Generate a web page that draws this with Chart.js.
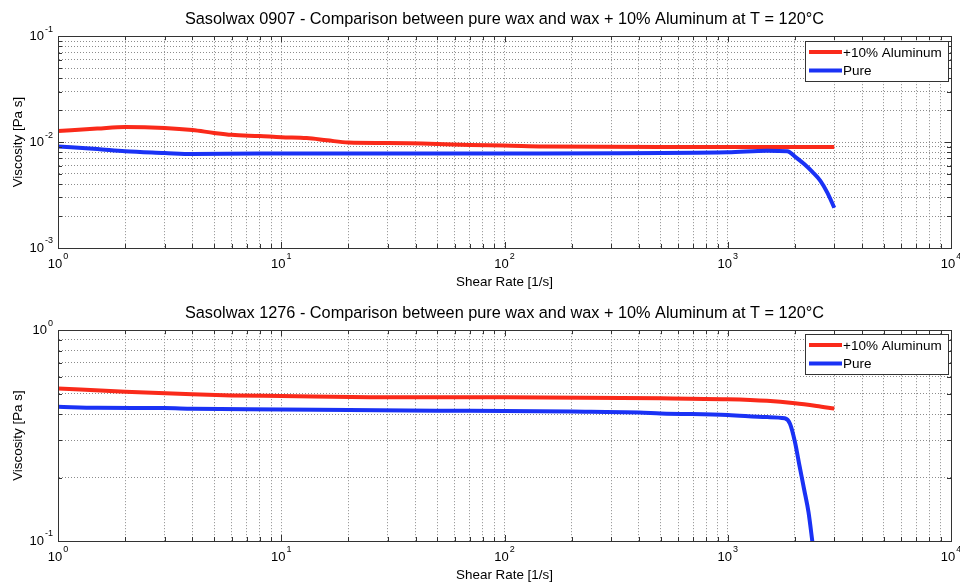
<!DOCTYPE html>
<html>
<head>
<meta charset="utf-8">
<title>Sasolwax viscosity comparison</title>
<script src="https://cdn.jsdelivr.net/npm/chart.js@4/dist/chart.umd.min.js"></script>
<style>
  body { margin: 0; background: #fff; }
  .plot { width: 960px; height: 293px; }
</style>
</head>
<body>
<div class="plot"><canvas id="chart-0907" width="960" height="293"></canvas></div>
<div class="plot"><canvas id="chart-1276" width="960" height="293"></canvas></div>
<script>
// decades shown on the axes (labels are 10^n)
const xDecades = [0, 1, 2, 3, 4];
const yDecades0907 = [-3, -2, -1];
const yDecades1276 = [-1, 0];

// Sasolwax 0907
const shear0907Alu = [1, 1.5, 2, 3, 4, 5, 6, 8, 10, 13, 16, 20, 30, 50, 70, 100, 150, 500, 1000, 3000];
const visc0907Alu = [0.0127, 0.0134, 0.0139, 0.0136, 0.0130, 0.0122, 0.0117, 0.0114, 0.0111, 0.0109, 0.0104, 0.0099, 0.0098, 0.0096, 0.0094, 0.0093, 0.0091, 0.0090, 0.0090, 0.0090];
const shear0907Pure = [1, 1.5, 2, 3, 4, 8, 100, 1000, 1500, 1850, 2000, 2200, 2400, 2600, 2800, 3000];
const visc0907Pure = [0.0091, 0.0086, 0.0082, 0.0079, 0.0077, 0.0078, 0.0078, 0.0080, 0.0083, 0.0082, 0.0073, 0.0062, 0.0052, 0.0043, 0.0033, 0.0024];

// Sasolwax 1276
const shear1276Alu = [1, 2, 4, 6, 10, 25, 100, 500, 1000, 1500, 2000, 2500, 3000];
const visc1276Alu = [0.529, 0.510, 0.496, 0.490, 0.487, 0.481, 0.480, 0.475, 0.470, 0.462, 0.450, 0.437, 0.425];
const shear1276Pure = [1, 1.5, 3, 4, 10, 20, 50, 100, 200, 400, 500, 1000, 1500, 1800, 1900, 2000, 2100, 2200, 2300, 2400];
const visc1276Pure = [0.433, 0.428, 0.427, 0.424, 0.421, 0.418, 0.415, 0.414, 0.411, 0.407, 0.403, 0.396, 0.387, 0.382, 0.360, 0.295, 0.225, 0.175, 0.137, 0.097];

const RED = '#fa2a1a';
const BLUE = '#1a32f5';
const GRID = '#8c8c8c';
const FRAME = '#333';
const FONT = '"Liberation Sans", Arial, Helvetica, sans-serif';

Chart.defaults.font.family = FONT;
Chart.defaults.color = '#000';

function points(xs, ys) {
  return xs.map((x, i) => ({ x: x, y: ys[i] }));
}

// 1..9 x 10^n for every decade, like matlab's minor grid
function logTicks(decades) {
  const ticks = [];
  for (let i = 0; i < decades.length - 1; i++) {
    const base = Math.pow(10, decades[i]);
    for (let s = 1; s <= 9; s++) {
      ticks.push({ value: parseFloat((s * base).toPrecision(6)), major: s === 1 });
    }
  }
  ticks.push({ value: Math.pow(10, decades[decades.length - 1]), major: true });
  return ticks;
}

// "10" with a small exponent
function drawPower(ctx, exp, px, py, align) {
  ctx.font = '13px ' + FONT;
  const wb = ctx.measureText('10').width;
  ctx.font = '9px ' + FONT;
  const ws = ctx.measureText(String(exp)).width;
  const left = align === 'center' ? px - (wb + ws + 1) / 2 : px - wb - ws - 1;
  ctx.textAlign = 'left';
  ctx.textBaseline = 'middle';
  ctx.fillStyle = '#000';
  ctx.font = '13px ' + FONT;
  ctx.fillText('10', left, py);
  ctx.font = '9px ' + FONT;
  ctx.fillText(String(exp), left + wb + 1, py - 7);
}

// box, inward tick marks, tick labels and legend
const matlabAxes = {
  id: 'matlabAxes',
  afterDraw(chart, args, opts) {
    const { ctx, chartArea: a, scales: { x, y } } = chart;
    ctx.save();
    ctx.strokeStyle = FRAME;
    ctx.lineWidth = 1;
    ctx.beginPath();
    x.ticks.forEach(t => {
      const px = Math.round(x.getPixelForValue(t.value)) + 0.5;
      const len = t.major ? 6 : 4;
      ctx.moveTo(px, a.bottom); ctx.lineTo(px, a.bottom - len);
      ctx.moveTo(px, a.top); ctx.lineTo(px, a.top + len);
    });
    y.ticks.forEach(t => {
      const py = Math.round(y.getPixelForValue(t.value)) + 0.5;
      const len = t.major ? 6 : 4;
      ctx.moveTo(a.left, py); ctx.lineTo(a.left + len, py);
      ctx.moveTo(a.right, py); ctx.lineTo(a.right - len, py);
    });
    ctx.stroke();
    ctx.strokeRect(Math.round(a.left) + 0.5, Math.round(a.top) + 0.5,
      Math.round(a.right - a.left), Math.round(a.bottom - a.top));

    xDecades.forEach(d => drawPower(ctx, d, x.getPixelForValue(Math.pow(10, d)), a.bottom + 16, 'center'));
    opts.yDecades.forEach(d => drawPower(ctx, d, a.left - 5, y.getPixelForValue(Math.pow(10, d)), 'right'));

    // legend in the top right corner
    const items = chart.data.datasets;
    ctx.font = '13.5px ' + FONT;
    const textW = Math.max(...items.map(d => ctx.measureText(d.label).width));
    const rowH = 18.5;
    const w = Math.round(38 + textW + 6);
    const h = Math.round(items.length * rowH + 3);
    const right = Math.round(a.right) - 3;
    const top = Math.round(a.top) + opts.legendTop;
    const left = right - w;
    ctx.fillStyle = '#fff';
    ctx.fillRect(left, top, w, h);
    ctx.strokeStyle = FRAME;
    ctx.lineWidth = 1;
    ctx.strokeRect(left + 0.5, top + 0.5, w, h);
    items.forEach((d, i) => {
      const cy = top + 11 + i * rowH;
      ctx.strokeStyle = d.borderColor;
      ctx.lineWidth = 4;
      ctx.beginPath();
      ctx.moveTo(left + 4, cy);
      ctx.lineTo(left + 37, cy);
      ctx.stroke();
      ctx.fillStyle = '#000';
      ctx.textAlign = 'left';
      ctx.textBaseline = 'middle';
      ctx.fillText(d.label, left + 38, cy + 1);
    });
    ctx.restore();
  }
};

function makeChart(id, title, yDecades, alu, pure, titlePad, legendTop) {
  return new Chart(document.getElementById(id), {
    type: 'line',
    data: {
      datasets: [
        { label: '+10% Aluminum', data: alu, borderColor: RED, order: 1 },
        { label: 'Pure', data: pure, borderColor: BLUE, order: 0 }
      ]
    },
    options: {
      responsive: false,
      animation: false,
      clip: 0,
      layout: { padding: { left: 0, right: 9, top: 0, bottom: 0 } },
      elements: {
        point: { radius: 0 },
        line: { borderWidth: 4, cubicInterpolationMode: 'monotone', borderJoinStyle: 'round' }
      },
      plugins: {
        legend: { display: false },
        tooltip: { enabled: false },
        title: {
          display: true,
          text: title,
          fullSize: false,
          color: '#000',
          font: { size: 16.3, weight: 'normal' },
          padding: titlePad
        },
        matlabAxes: { yDecades: yDecades, legendTop: legendTop }
      },
      scales: {
        x: {
          type: 'logarithmic',
          min: Math.pow(10, xDecades[0]),
          max: Math.pow(10, xDecades[xDecades.length - 1]),
          afterBuildTicks: s => { s.ticks = logTicks(xDecades); },
          afterFit: s => { s.height = 45; },
          ticks: { display: false },
          grid: { color: GRID, drawTicks: false },
          border: { color: FRAME, dash: [1, 2] },
          title: { display: true, text: 'Shear Rate [1/s]', font: { size: 13.4 }, padding: { top: 0, bottom: 2.3 } }
        },
        y: {
          type: 'logarithmic',
          min: Math.pow(10, yDecades[0]),
          max: Math.pow(10, yDecades[yDecades.length - 1]),
          afterBuildTicks: s => { s.ticks = logTicks(yDecades); },
          afterFit: s => { s.width = 58; },
          ticks: { display: false },
          grid: { color: GRID, drawTicks: false },
          border: { color: FRAME, dash: [1, 2] },
          title: { display: true, text: 'Viscosity [Pa s]', font: { size: 13.4 }, padding: { top: 10, bottom: 0 } }
        }
      }
    },
    plugins: [matlabAxes]
  });
}

makeChart('chart-0907',
  'Sasolwax 0907 - Comparison between pure wax and wax + 10% Aluminum at T = 120°C',
  yDecades0907,
  points(shear0907Alu, visc0907Alu),
  points(shear0907Pure, visc0907Pure),
  { top: 10.2, bottom: 6.4 }, 5);

makeChart('chart-1276',
  'Sasolwax 1276 - Comparison between pure wax and wax + 10% Aluminum at T = 120°C',
  yDecades1276,
  points(shear1276Alu, visc1276Alu),
  points(shear1276Pure, visc1276Pure),
  { top: 10.5, bottom: 7.1 }, 4);
</script>
</body>
</html>
